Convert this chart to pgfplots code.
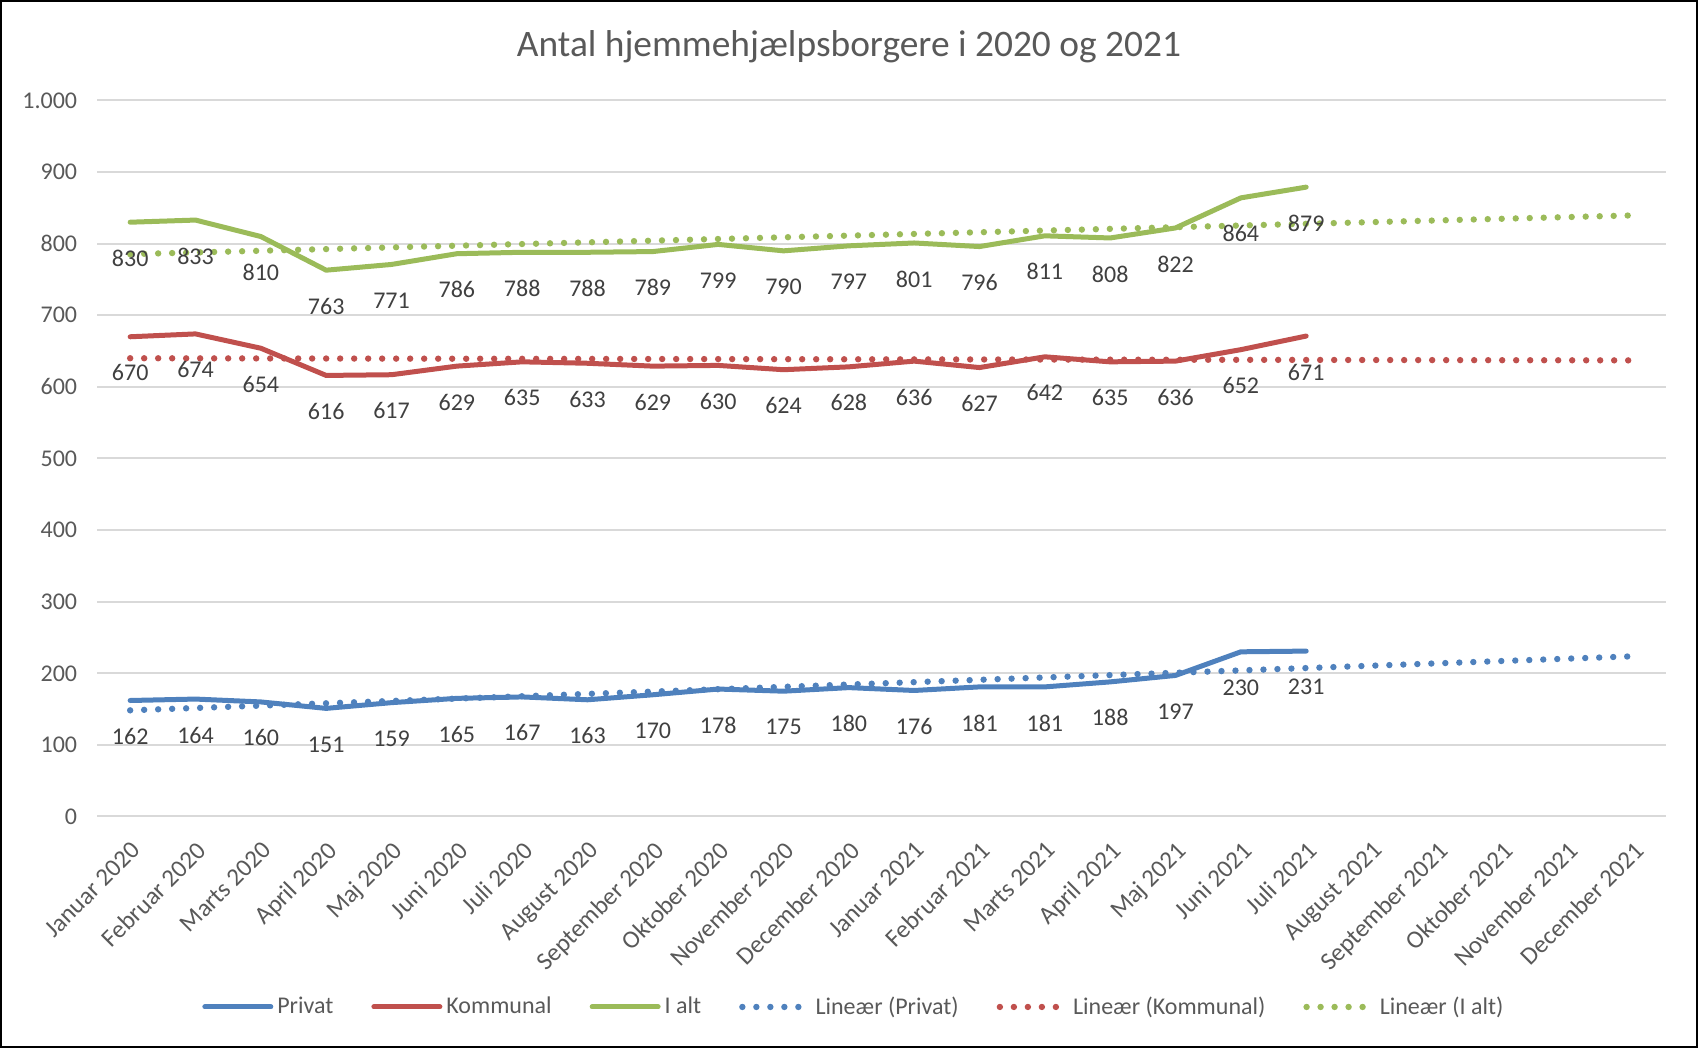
\documentclass[border=0pt]{standalone}
\usepackage{pgfplots}
\pgfplotsset{compat=1.18}
\usepackage{fontspec}
\setmainfont{Carlito}
\definecolor{cblue}{HTML}{4F81BD}
\definecolor{cred}{HTML}{C0504D}
\definecolor{cgreen}{HTML}{9BBB59}
\definecolor{txt}{HTML}{595959}
\definecolor{lbl}{HTML}{404040}
\definecolor{gridc}{HTML}{D9D9D9}

\pgfplotstableread{
x privat kommunal ialt
0 162 670 830
1 164 674 833
2 160 654 810
3 151 616 763
4 159 617 771
5 165 629 786
6 167 635 788
7 163 633 788
8 170 629 789
9 178 630 799
10 175 624 790
11 180 628 797
12 176 636 801
13 181 627 796
14 181 642 811
15 188 635 808
16 197 636 822
17 230 652 864
18 231 671 879
}\data

\pgfplotstableread{
x privat kommunal ialt
0 148.26 640.01 785.41
23 223.72 637.02 839.52
}\trend

\begin{document}
\begin{tikzpicture}
\begin{axis}[
  at={(0,0)}, anchor=south west,
  scale only axis, width=784pt, height=358pt,
  xmin=-0.5, xmax=23.5, ymin=0, ymax=1000,
  /pgf/number format/assume math mode=true,
  axis line style={draw=none},
  tick style={draw=none},
  major tick length=0pt,
  ymajorgrids, grid style={gridc, line width=1pt},
  ytick={0,100,...,1000},
  yticklabels={0,100,200,300,400,500,600,700,800,900,1.000},
  yticklabel style={font=\fontsize{12}{14}\selectfont, text=txt, inner sep=0pt, xshift=-10pt},
  xtick={0,...,23},
  xticklabels={Januar 2020,Februar 2020,Marts 2020,April 2020,Maj 2020,Juni 2020,Juli 2020,August 2020,September 2020,Oktober 2020,November 2020,December 2020,Januar 2021,Februar 2021,Marts 2021,April 2021,Maj 2021,Juni 2021,Juli 2021,August 2021,September 2021,Oktober 2021,November 2021,December 2021},
  xticklabel style={font=\fontsize{12.5}{14}\selectfont, text=txt, inner sep=0pt, xshift=0pt, yshift=-11.5pt, rotate=45, anchor=north east},
  legend style={at={(0.483,-0.266)}, anchor=center, draw=none, fill=none,
    legend columns=6, font=\fontsize{12}{14}\selectfont, text=txt,
    /tikz/every even column/.append style={column sep=17pt}},
  legend image code/.code={\draw[#1] (0pt,0pt) -- (33pt,0pt);},
  solid/.style={line width=2.5pt, line cap=round, line join=round},
  dots/.style={line width=3.2pt, line cap=round, dash pattern=on 0pt off 7pt},
  lab/.style={draw=none, forget plot, nodes near coords,
    every node near coord/.append style={font=\fontsize{12}{14}\selectfont, text=lbl, anchor=center, yshift=-18pt, inner sep=0pt}},
]
\addplot[cblue, solid] table[x=x, y=privat] {\data};
\addlegendentry{Privat}
\addplot[cred, solid] table[x=x, y=kommunal] {\data};
\addlegendentry{Kommunal}
\addplot[cgreen, solid] table[x=x, y=ialt] {\data};
\addlegendentry{I alt}
\addplot[cblue, dots] table[x=x, y=privat] {\trend};
\addlegendentry{Lineær (Privat)}
\addplot[cred, dots] table[x=x, y=kommunal] {\trend};
\addlegendentry{Lineær (Kommunal)}
\addplot[cgreen, dots] table[x=x, y=ialt] {\trend};
\addlegendentry{Lineær (I alt)}
\addplot[lab] table[x=x, y=privat] {\data};
\addplot[lab] table[x=x, y=kommunal] {\data};
\addplot[lab] table[x=x, y=ialt] {\data};
\end{axis}
\node[font=\fontsize{18.7}{22}\selectfont, text=txt] at (375.75pt,385pt) {Antal hjemmehjælpsborgere i 2020 og 2021};
\pgfresetboundingbox
\path[use as bounding box] (-48.75pt,-115.75pt) rectangle (800.25pt,408.25pt);
\draw[line width=1.2pt] (-48.15pt,-115.15pt) rectangle (799.65pt,407.65pt);
\end{tikzpicture}
\end{document}
